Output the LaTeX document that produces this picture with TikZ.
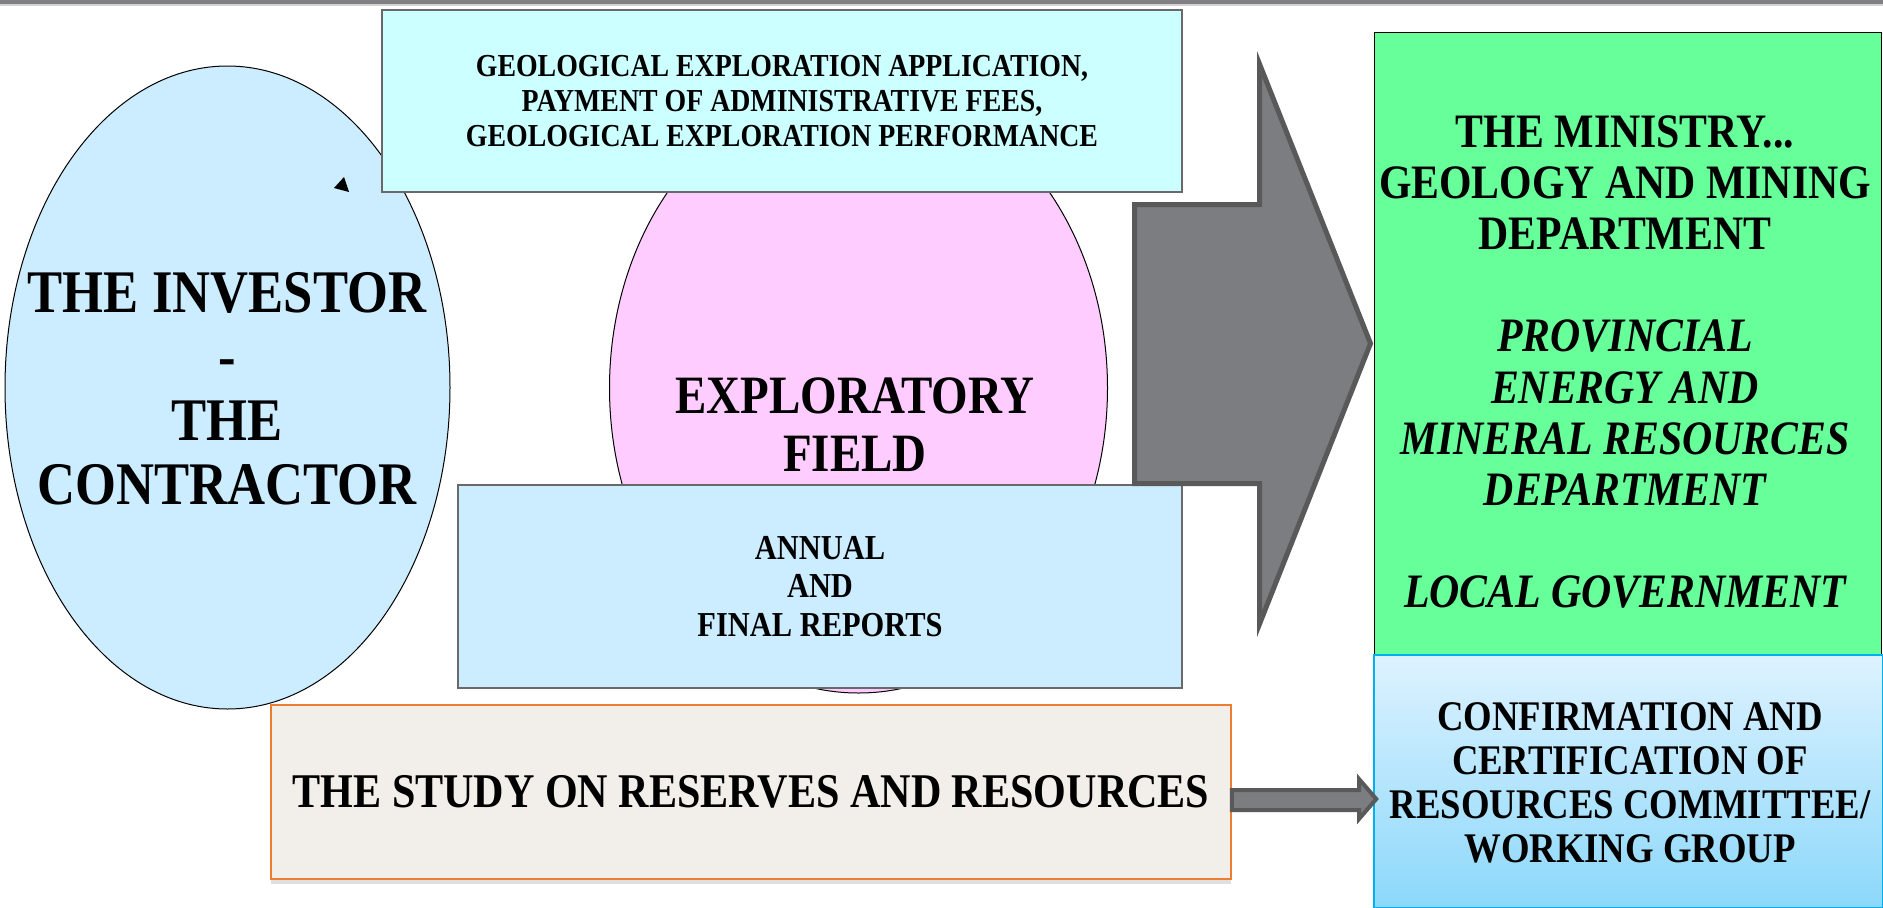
\documentclass[tikz,border=0pt]{standalone}
\usepackage{fontspec}
\setmainfont{Liberation Serif}
\usetikzlibrary{shapes.geometric,calc,shadows}

\definecolor{bandgray}{RGB}{128,128,130}
\definecolor{investorblue}{RGB}{204,236,255}
\definecolor{appcyan}{RGB}{204,255,255}
\definecolor{fieldpink}{RGB}{255,204,255}
\definecolor{ministrygreen}{RGB}{102,255,153}
\definecolor{studybeige}{RGB}{242,238,233}
\definecolor{studyedge}{RGB}{237,125,49}
\definecolor{boxgray}{RGB}{105,105,105}
\definecolor{arrowgray}{RGB}{124,125,129}
\definecolor{arrowedge}{RGB}{89,89,89}
\definecolor{committeetop}{RGB}{221,242,255}
\definecolor{committeebottom}{RGB}{140,216,250}
\definecolor{committeeedge}{RGB}{0,176,240}

% tall type: condensed in x, as the slide's fonts are
\newcommand{\tall}[1]{\scalebox{0.87}[1]{#1}}

\begin{document}
\begin{tikzpicture}[x=1pt,y=-1pt,
  box/.style={draw=boxgray,line width=1.5pt,inner sep=0pt,align=center},
  blockarrow/.style={fill=arrowgray,draw=arrowedge,line join=miter}]
\useasboundingbox (0,0) rectangle (1883,908);

% Top band
\fill[bandgray] (0,0) rectangle (1883,4);
\fill[gray!35] (0,4) rectangle (1883,5.5);

% Investor
\node[ellipse,draw,line width=1pt,fill=investorblue,minimum width=445pt,minimum height=643pt,inner sep=0pt] (investor) at (227.5,387.5) {};
\node[align=center,font=\fontsize{60.5}{64}\selectfont\bfseries] (investortext) at (227,389)
  {\tall{THE INVESTOR}\\\tall{-}\\\tall{THE}\\\tall{CONTRACTOR}};

% Exploratory field
\node[ellipse,draw,line width=1pt,fill=fieldpink,minimum width=498pt,minimum height=610pt,inner sep=0pt] (field) at (858.5,388) {};
\node[align=center,font=\fontsize{54}{58}\selectfont\bfseries] (fieldtext) at (855,425) {\tall{EXPLORATORY}\\\tall{FIELD}};

% Application box
\node[box,fill=appcyan,minimum width=800pt,minimum height=182pt,font=\fontsize{32}{35}\selectfont\bfseries] (application) at (782,101)
  {\tall{GEOLOGICAL EXPLORATION APPLICATION,}\\\tall{PAYMENT OF ADMINISTRATIVE FEES,}\\\tall{GEOLOGICAL EXPLORATION PERFORMANCE}};

% Reports box
\node[box,fill=investorblue,minimum width=724pt,minimum height=203pt,font=\fontsize{35}{38.5}\selectfont\bfseries] (reports) at (820,586.5)
  {\tall{ANNUAL}\\\tall{AND}\\\tall{FINAL REPORTS}};

% Ministry box
\node[draw,line width=1pt,fill=ministrygreen,minimum width=507pt,minimum height=623pt,inner sep=0pt] (ministry) at (1627.5,343.5) {};
\node[align=center,font=\fontsize{48}{51.1}\selectfont\bfseries] (ministrytext) at (1625,362)
  {\tall{THE MINISTRY...}\\\tall{GEOLOGY AND MINING}\\\tall{DEPARTMENT}\\[51.1pt]
   \tall{\itshape PROVINCIAL}\\\tall{\itshape ENERGY AND}\\\tall{\itshape MINERAL RESOURCES}\\\tall{\itshape DEPARTMENT}\\[51.1pt]
   \tall{\itshape LOCAL GOVERNMENT}};

% Big arrow
\draw[blockarrow,line width=5pt] (1134.5,204.5) -- (1259.5,204.5) -- (1259.5,64)
  -- ($(ministry.west)+(-3,0)$) -- (1259.5,624) -- (1259.5,483.5) -- (1134.5,483.5) -- cycle;

% Committee box
\node[draw=committeeedge,line width=1.5pt,top color=committeetop,bottom color=committeebottom,minimum width=509pt,minimum height=253pt,inner sep=0pt] (committee) at (1628.5,781.5) {};
\node[align=center,font=\fontsize{42.2}{44}\selectfont\bfseries] (committeetext) at (1630,783)
  {\tall{CONFIRMATION AND}\\\tall{CERTIFICATION OF}\\\tall{RESOURCES COMMITTEE/}\\\tall{WORKING GROUP}};

% Study box
\node[draw=studyedge,line width=1.5pt,fill=studybeige,minimum width=960pt,minimum height=174pt,inner sep=0pt,
  drop shadow={opacity=0.25,shadow xshift=0pt,shadow yshift=-5pt},font=\fontsize{48.4}{52}\selectfont\bfseries] (study) at (751,792)
  {\tall{THE STUDY ON RESERVES AND RESOURCES}};

% Small arrow
\draw[blockarrow,line width=4pt] (study.east |- 0,790) -- (1359,790) -- (1359,779)
  -- ($(committee.west)+(3,17.5)$) -- (1359,819) -- (1359,810) -- (study.east |- 0,810) -- cycle;

% Loose arrow tip
\fill (334,188) -- (344,177) -- (349,192) -- cycle;
\end{tikzpicture}
\end{document}
